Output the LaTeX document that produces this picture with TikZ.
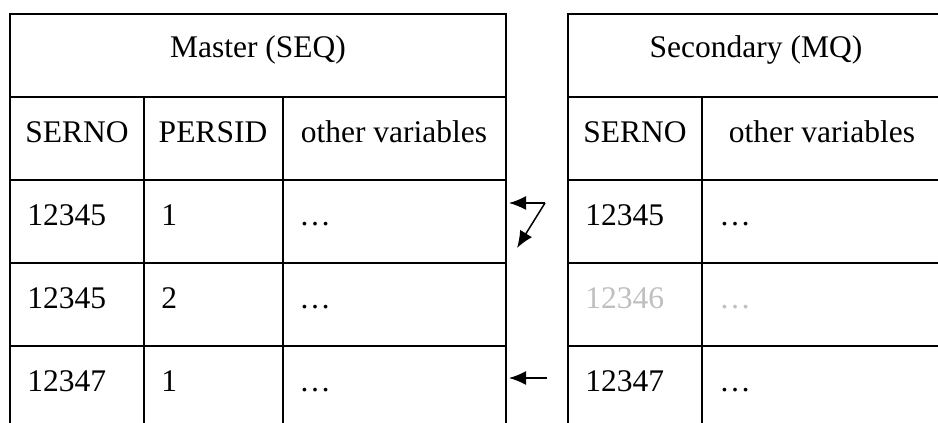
\documentclass[tikz,border=0pt]{standalone}
\usepackage{fontspec}
\setmainfont{Liberation Serif}
\usetikzlibrary{arrows.meta, positioning}

\begin{document}
\begin{tikzpicture}[x=1pt, y=-1pt, line width=2.8pt,
        entry/.style={anchor=base west, inner sep=0pt, font=\fontsize{31.5}{36}\selectfont},
        title/.style={anchor=base, inner sep=0pt, font=\fontsize{31.5}{36}\selectfont},
        faded/.style={text=black!25},
        link/.style={line width=1.5pt, -{Latex[length=17pt, width=14pt]}}]
    \useasboundingbox (0,0) rectangle (938,423);

    % master table
    \draw (10,423) -- (10,14) -- (506,14) -- (506,423);
    \draw (10,97)--(506,97) (10,180)--(506,180) (10,263)--(506,263) (10,346)--(506,346);
    \draw (144,97)--(144,423) (283,97)--(283,423);

    % secondary table
    \draw (568,423) -- (568,14) -- (938,14);
    \draw (568,97)--(938,97) (568,180)--(938,180) (568,263)--(938,263) (568,346)--(938,346);
    \draw (702,97)--(702,423);

    \node[title] (master) at (258,57) {Master (SEQ)};
    \node[title] (secondary) at (756,57) {Secondary (MQ)};
    \node[title] (mserno) at (77,142) {SERNO};
    \node[title] (persid) at (213,142) {PERSID};
    \node[title] (mother) at (394,142) {other variables};
    \node[title] (sserno) at (635,142) {SERNO};
    \node[title] (sother) at (822,142) {other variables};

    \foreach \y/\a/\b/\s in {225/12345/1/, 308/12345/2/faded, 391/12347/1/} {
        \node[entry] (ma\y) at (26,\y) {\a};
        \node[entry] (mb\y) at (160,\y) {\b};
        \node[entry] (mc\y) at (298,\y) {\ldots};
        \node[entry, \s] (sa\y) at (584,\y) {\ifnum\y=308 12346\else\a\fi};
        \node[entry, \s] (sb\y) at (718,\y) {\ldots};
    }

    % matching arrows
    \coordinate (bend) at (545,203);
    \coordinate (toprow) at (509,203);
    \coordinate (nextrow) at (517,248);
    \coordinate (lastfrom) at (547,378);
    \coordinate (lastrow) at (509,378);
    \draw[link] (bend) -- (toprow);
    \draw[link] (bend) -- (nextrow);
    \draw[link] (lastfrom) -- (lastrow);
\end{tikzpicture}
\end{document}
